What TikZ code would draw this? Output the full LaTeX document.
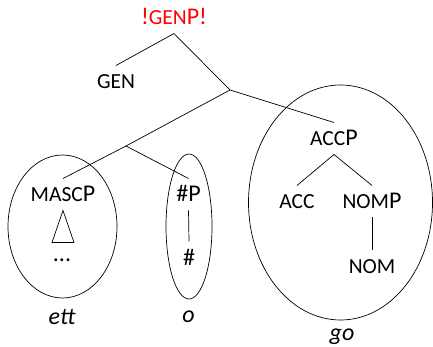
\documentclass[tikz,border=0pt]{standalone}
\usepackage{fontspec}
\setmainfont{Carlito}
\usepackage{tikz}
\usetikzlibrary{calc}

\newcommand{\fakesc}[1]{{\fontsize{21.5}{21.5}\selectfont #1}}

\begin{document}
\begin{tikzpicture}[
    x=1pt, y=-1pt,
    lbl/.style={anchor=base, inner sep=0pt, outer sep=8.5pt, text height=15pt, text depth=0pt, font=\fontsize{24}{24}\selectfont},
    word/.style={anchor=base, inner sep=0pt, font=\fontsize{24}{24}\selectfont\itshape},
    edge/.style={line width=0.7pt},
    ring/.style={line width=0.7pt}
]
    \useasboundingbox (0,0) rectangle (433,347);

    % tree labels
    \node[lbl, text=red] (genp) at (174,25) {!\fakesc{GEN}P!};
    \node[lbl] (gen) at (116,89) {\fakesc{GEN}};
    \coordinate (n1) at (230,90);
    \coordinate (n2) at (126,146);
    \node[lbl] (accp) at (334,146) {\fakesc{ACC}P};
    \node[lbl] (acc) at (297,209) {\fakesc{ACC}};
    \node[lbl] (nomp) at (372,209) {\fakesc{NOM}P};
    \node[lbl] (nom) at (372,273) {\fakesc{NOM}};
    \node[lbl] (mascp) at (63,202) {\fakesc{MASC}P};
    \node[lbl] (dots) at (62,261) {...};
    \node[lbl] (hashp) at (188.5,202) {\#P};
    \node[lbl] (hash) at (189,265) {\#};

    % branches
    \draw[edge] (genp.south) -- (gen.north);
    \draw[edge] (genp.south) -- (n1) -- (accp.north);
    \draw[edge] (n1) -- (n2) -- (mascp.north);
    \draw[edge] (n2) -- (hashp.north);
    \draw[edge] (hashp.south) -- (hash.north);
    \draw[edge] (acc.north) -- (accp.south) -- (nomp.north);
    \draw[edge] (nomp.south) -- (nom.north);
    \draw[edge] (mascp.south) -- ++(-11,32) -- ++(22,0) -- cycle;

    % groupings
    \draw[ring] (62.5,226.5) ellipse [x radius=54.5pt, y radius=71.5pt];
    \draw[ring] (189,226.5) ellipse [x radius=23pt, y radius=72.5pt];
    \draw[ring] (340.5,202.5) ellipse [x radius=92pt, y radius=117.5pt];

    \node[word] (ett) at (62,324) {ett};
    \node[word] (o) at (188.5,322) {o};
    \node[word] (go) at (342,340) {go};
\end{tikzpicture}
\end{document}
